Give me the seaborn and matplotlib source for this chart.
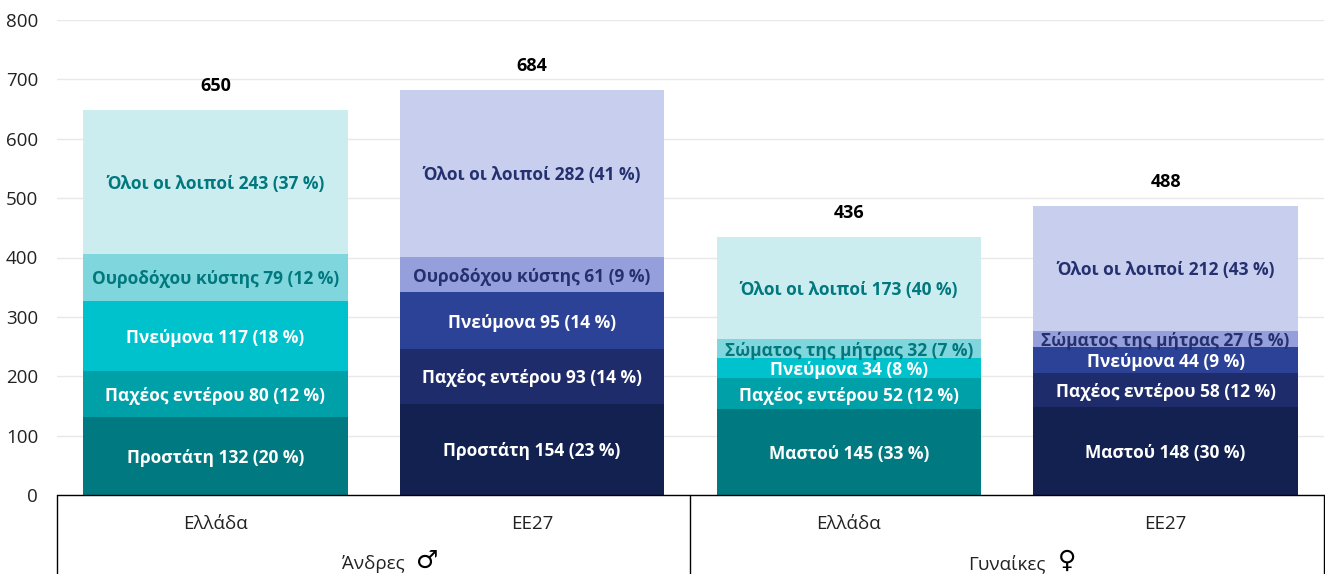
"""Stacked bars of cancer deaths by site, Greece vs EU27, men and women."""

import matplotlib

matplotlib.use("Agg")
import matplotlib.pyplot as plt
import numpy as np
import seaborn as sns

slots = ["m_gr", "m_eu", "f_gr", "f_eu"]
slot_labels = ["Ελλάδα", "ΕΕ27", "Ελλάδα", "ΕΕ27"]
group_labels = ["Άνδρες", "Γυναίκες"]
group_symbols = ["♂", "♀"]
totals = [650, 684, 436, 488]

sites_men = ["Προστάτη", "Παχέος εντέρου", "Πνεύμονα", "Ουροδόχου κύστης", "Όλοι οι λοιποί"]
sites_women = ["Μαστού", "Παχέος εντέρου", "Πνεύμονα", "Σώματος της μήτρας", "Όλοι οι λοιποί"]

# labelled (rounded) values and percentages
men_gr = [132, 80, 117, 79, 243]
men_gr_pct = [20, 12, 18, 12, 37]
men_eu = [154, 93, 95, 61, 282]
men_eu_pct = [23, 14, 14, 9, 41]
women_gr = [145, 52, 34, 32, 173]
women_gr_pct = [33, 12, 8, 7, 40]
women_eu = [148, 58, 44, 27, 212]
women_eu_pct = [30, 12, 9, 5, 43]

# segment heights
men_gr_h = [132, 77.5, 117.5, 79, 243]
men_eu_h = [154, 92.5, 95, 60, 281]
women_gr_h = [145, 52, 33.5, 32, 172.5]
women_eu_h = [148, 58, 44, 27, 210.5]

teal = ["#007A80", "#00A0A8", "#00C2CC", "#7FD7DD", "#CCEDF0"]
blue = ["#12214F", "#1F2C6B", "#2B4297", "#959FDB", "#C8CFEE"]
teal_dark = "#00787E"
blue_dark = "#25306F"

sns.set_theme(style="white")
plt.rcParams["font.family"] = ["Open Sans", "DejaVu Sans"]

fig = plt.figure(figsize=(13.25, 5.74), dpi=100)
ax = fig.add_axes([57 / 1325, 79 / 574, 1267 / 1325, 475 / 574])

columns = [
    (men_gr, men_gr_h, men_gr_pct, sites_men, teal, teal_dark),
    (men_eu, men_eu_h, men_eu_pct, sites_men, blue, blue_dark),
    (women_gr, women_gr_h, women_gr_pct, sites_women, teal, teal_dark),
    (women_eu, women_eu_h, women_eu_pct, sites_women, blue, blue_dark),
]

for i, (values, heights, pcts, sites, colors, dark) in enumerate(columns):
    bottoms = np.concatenate([[0], np.cumsum(heights)[:-1]])
    for j, height in enumerate(heights):
        sns.barplot(
            x=[slots[i]],
            y=[height],
            order=slots,
            bottom=bottoms[j],
            color=colors[j],
            saturation=1,
            width=0.835,
            linewidth=0,
            ax=ax,
        )
        ax.annotate(
            f"{sites[j]} {values[j]} ({pcts[j]} %)",
            (i, bottoms[j] + height / 2),
            xytext=(0, -1.5),
            textcoords="offset points",
            ha="center",
            va="center",
            fontsize=12.5,
            fontweight="bold",
            color="white" if j < 3 else dark,
            zorder=5,
        )
    ax.text(i, totals[i] + 38.5, str(totals[i]), ha="center", va="center",
            fontsize=13, fontweight="bold", color="black")

ax.set_xlim(-0.5, 3.5)
ax.set_ylim(0, 800)
ax.set_yticks(range(0, 801, 100))
ax.set_xticks([])
ax.set_xlabel("")
ax.set_ylabel("")
ax.grid(axis="y", color="#E8E8E8", linewidth=1)
ax.set_axisbelow(True)
ax.tick_params(axis="y", length=0, pad=13.5, labelsize=13.5, labelcolor="#222222")
sns.despine(ax=ax, left=True, right=True, top=True, bottom=True)

# category box under the axis
trans = ax.get_xaxis_transform()
ax.plot([-0.5, 3.5], [0, 0], transform=trans, color="black", lw=1, clip_on=False, zorder=6)
for x in [-0.5, 1.5, 3.5]:
    ax.plot([x, x], [0, -79 / 475], transform=trans, color="black", lw=1, clip_on=False)

for i, label in enumerate(slot_labels):
    ax.text(i, -29 / 475, label, transform=trans, ha="center", va="center",
            fontsize=13.5, color="#222222")

for k, label in enumerate(group_labels):
    center = 0.5 + 2 * k
    ax.text(center, -69 / 475, label, transform=trans, ha="center", va="center",
            fontsize=13.5, color="#222222")
    ax.text(center + (0.17 if k == 0 else 0.19), -66 / 475, group_symbols[k], transform=trans,
            ha="center", va="center", fontsize=18, color="black", family=["DejaVu Sans"])

fig.savefig("out.png", dpi=100)
